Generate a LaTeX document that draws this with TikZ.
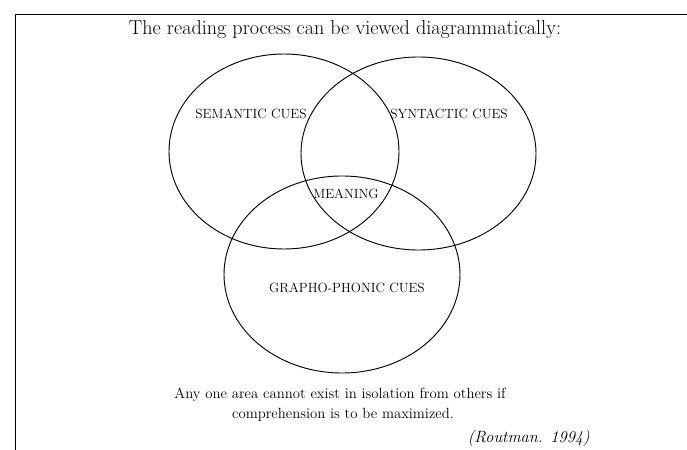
\documentclass[tikz,border=0pt]{standalone}
\usetikzlibrary{positioning, shapes.geometric}

\begin{document}
\begin{tikzpicture}[x=0.03cm, y=-0.03cm,
  venn/.style={ellipse, draw=black, line width=0.8pt, inner sep=0pt},
  cue/.style={font=\fontsize{11.4}{13}\selectfont, inner sep=0pt},
  note/.style={font=\fontsize{12.6}{15}\selectfont, inner sep=0pt},
  node distance=0.25cm
]
  \useasboundingbox (0,0) rectangle (687,450);
  % frame
  \coordinate (tr) at (687,14);
  \coordinate (tl) at (15,14);
  \coordinate (bl) at (15,450);
  \draw[line width=0.8pt] (tr) -- (tl) -- (bl);
  \node[font=\fontsize{17.2}{20}\selectfont, anchor=base, inner sep=0pt] (title) at (345,35)
    {The reading process can be viewed diagrammatically:};
  % the three circles
  \node[venn, minimum width=6.9cm, minimum height=5.85cm] (sem) at (284,151.5) {};
  \node[venn, minimum width=7.05cm, minimum height=5.79cm] (syn) at (418.5,153.5) {};
  \node[venn, minimum width=7.08cm, minimum height=5.91cm] (gra) at (342,274.5) {};
  \node[cue] (semlbl) at (251,114) {SEMANTIC CUES};
  \node[cue] (synlbl) at (449,114) {SYNTACTIC CUES};
  \node[cue] (mean) at (346,194) {MEANING};
  \node[cue] (gralbl) at (347,288) {GRAPHO-PHONIC CUES};
  % quote underneath
  \node[note, anchor=base] (line1) at (340,398) {Any one area cannot exist in isolation from others if};
  \node[note, anchor=base] (line2) at (343,418) {comprehension is to be maximized.};
  \node[note, anchor=base east, font=\fontsize{14}{16}\selectfont\itshape] (cite) at (590,442) {(Routman. 1994)};
\end{tikzpicture}
\end{document}
